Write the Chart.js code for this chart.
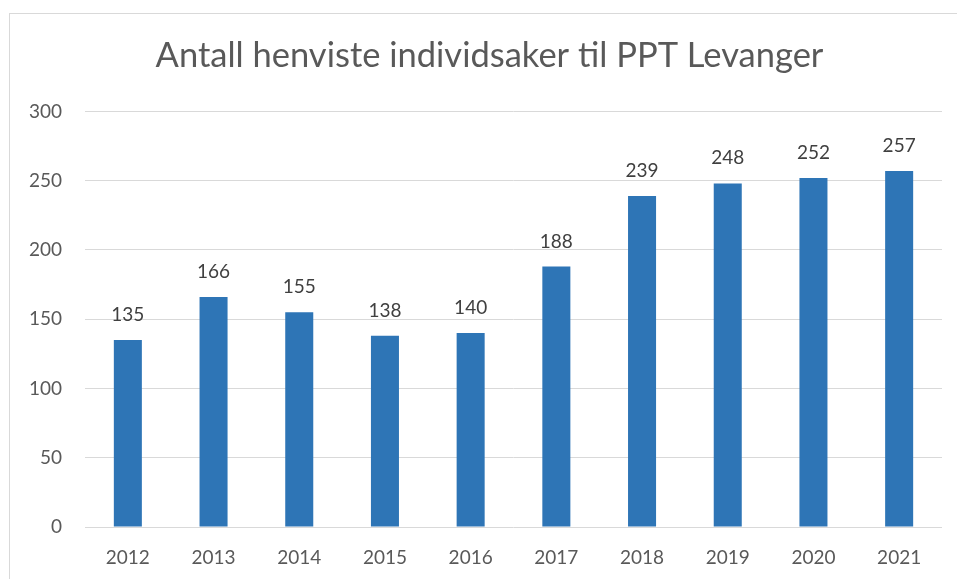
<!DOCTYPE html>
<html>
<head>
<meta charset="utf-8">
<script src="https://cdn.jsdelivr.net/npm/chart.js@4"></script>
<style>
  html, body { margin: 0; padding: 0; background: #fff; overflow: hidden; }
  #frame { position: absolute; left: 9px; top: 13px; width: 980px; height: 620px; border: 1px solid #d9d9d9; }
  #wrap { position: absolute; left: 0; top: 0; width: 957px; height: 579px; }
</style>
</head>
<body>
<div id="frame"></div>
<div id="wrap"><canvas id="chart"></canvas></div>
<script>
// data
const years = ['2012', '2013', '2014', '2015', '2016', '2017', '2018', '2019', '2020', '2021'];
const cases = [135, 166, 155, 138, 140, 188, 239, 248, 252, 257];
const yTicks = [0, 50, 100, 150, 200, 250, 300];

const barBlue = '#2E75B6';
const gridGrey = '#d9d9d9';
const tickGrey = '#595959';
const labelGrey = '#404040';
const fontFamily = "Lato, 'Open Sans', sans-serif";

// value labels above each bar
const barLabels = {
    id: 'barLabels',
    afterDatasetsDraw(chart) {
        const ctx = chart.ctx;
        const meta = chart.getDatasetMeta(0);
        ctx.save();
        ctx.font = '19px ' + fontFamily;
        ctx.fillStyle = labelGrey;
        ctx.textAlign = 'center';
        ctx.textBaseline = 'alphabetic';
        meta.data.forEach((bar, i) => {
            ctx.fillText(String(cases[i]), bar.x, bar.y - 19);
        });
        ctx.restore();
    }
};

// the title in the reference sits a bit right of the canvas centre
const shiftTitle = {
    id: 'shiftTitle',
    afterLayout(chart) {
        if (chart.titleBlock) {
            chart.titleBlock.left += 37;
        }
    }
};

new Chart(document.getElementById('chart'), {
    type: 'bar',
    data: {
        labels: years,
        datasets: [{
            label: 'Antall',
            data: cases,
            backgroundColor: barBlue,
            borderWidth: 0,
            categoryPercentage: 1,
            barPercentage: 0.327
        }]
    },
    options: {
        responsive: true,
        maintainAspectRatio: false,
        animation: false,
        layout: { padding: { left: 0, right: 15, top: 0, bottom: 0 } },
        plugins: {
            legend: { display: false },
            tooltip: { enabled: false },
            title: {
                display: true,
                text: 'Antall henviste individsaker til PPT Levanger',
                color: tickGrey,
                font: { family: fontFamily, size: 34.5, weight: 400 },
                padding: { top: 35, bottom: 35 }
            }
        },
        scales: {
            x: {
                grid: { display: false },
                border: { display: false },
                ticks: { color: tickGrey, font: { family: fontFamily, size: 19 }, padding: 11, maxRotation: 0 },
                afterFit(scale) { scale.height = 52; }
            },
            y: {
                min: 0,
                max: 300,
                afterBuildTicks(scale) { scale.ticks = yTicks.map(v => ({ value: v })); },
                grid: { color: gridGrey, lineWidth: 1, drawTicks: false },
                border: { display: false },
                ticks: { color: tickGrey, font: { family: fontFamily, size: 19 }, padding: 23 },
                afterFit(scale) { scale.width = 85; }
            }
        }
    },
    plugins: [barLabels, shiftTitle]
});
</script>
</body>
</html>
